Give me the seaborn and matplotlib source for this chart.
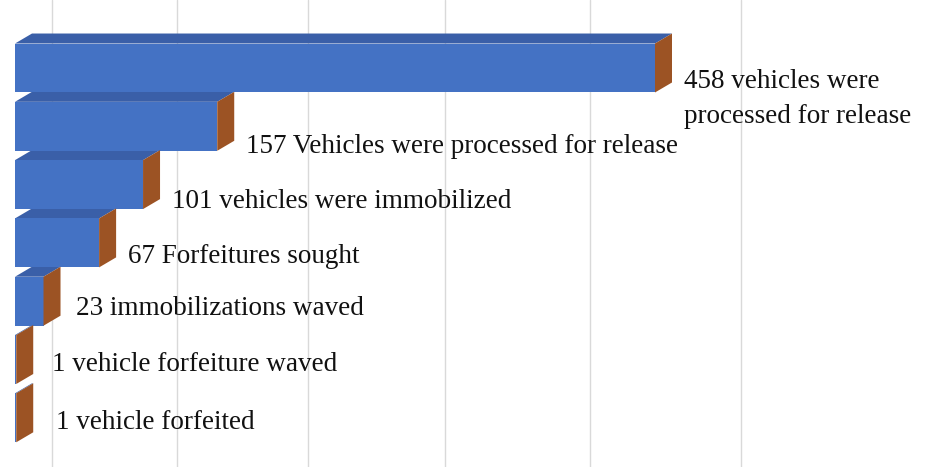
import matplotlib
matplotlib.use("Agg")
import matplotlib.pyplot as plt
from matplotlib.patches import Polygon
import seaborn as sns
import pandas as pd
import numpy as np

# ---- data ----
categories = ["Processed for release (total)", "Processed for release",
              "Immobilized", "Forfeitures sought", "Immobilizations waived",
              "Forfeiture waived", "Forfeited"]
values = [458, 157, 101, 67, 23, 1, 1]
labels = ["458 vehicles were\nprocessed for release",
          "157 Vehicles were processed for release",
          "101 vehicles were immobilized",
          "67 Forfeitures sought",
          "23 immobilizations waved",
          "1 vehicle forfeiture waved",
          "1 vehicle forfeited"]
grid_values = [0, 100, 200, 300, 400, 500]

df = pd.DataFrame({"category": categories, "value": values})

sns.set_theme(style="white")
plt.rcParams["font.family"] = ["Liberation Serif", "DejaVu Serif"]

W, H = 929, 467
fig = plt.figure(figsize=(W / 100, H / 100), dpi=100)
ax = fig.add_axes([0, 0, 1, 1])

FRONT = "#4472C4"
TOP = "#3A5FA8"
SIDE = "#9C5324"

bar_h = 0.84
ax = sns.barplot(data=df, y="category", x="value", orient="h", color=FRONT,
                 width=bar_h, ax=ax, zorder=3, saturation=1, linewidth=0)

# mild perspective along the value axis
A = 0.000295
def fwd(x):
    x = np.asarray(x, dtype=float)
    return x + A * x * np.abs(x)
def inv(y):
    y = np.asarray(y, dtype=float)
    return np.sign(y) * (-1 + np.sqrt(1 + 4 * A * np.abs(y))) / (2 * A)
ax.set_xscale("function", functions=(fwd, inv))

x0_px = 15
end_px = 655
k = (end_px - x0_px) / float(fwd(max(values)))
ax.set_xlim(float(inv(-x0_px / k)), float(inv((W - x0_px) / k)))

px_per_y = 58.3
y0_px = 68
ax.set_ylim((H - y0_px) / px_per_y, -y0_px / px_per_y)

# depth offsets in pixels
DX, DY = 17, 10
to_disp = ax.transData.transform
to_data = ax.transData.inverted().transform

def shift(pt, ddx, ddy):
    d = to_disp(pt)
    return tuple(to_data((d[0] + ddx, d[1] + ddy)))

# back-wall gridlines (shifted by depth), slightly compressed by distance
grid_shift = 30
for g in grid_values:
    ax.axvline(g * 0.965 + grid_shift, color="#d9d9d9", lw=1.0, zorder=0)

for i, v in enumerate(values):
    top = i - bar_h / 2
    bot = i + bar_h / 2
    p_tl, p_tr, p_br = (0, top), (v, top), (v, bot)
    ax.add_patch(Polygon([p_tl, p_tr, shift(p_tr, DX, DY), shift(p_tl, DX, DY)],
                         closed=True, facecolor=TOP, edgecolor="none",
                         zorder=2.5 + (7 - i) * 0.01))
    ax.add_patch(Polygon([p_tr, shift(p_tr, DX, DY), shift(p_br, DX, DY), p_br],
                         closed=True, facecolor=SIDE, edgecolor="none", zorder=3.5))
    side_end = to_disp((v, i))[0] + DX
    off_px = 4 + 10 * np.log(max(side_end, 50) / 45.0)
    gap = 12 + 3.5 * max(i - 3, 0)
    lx, ly = to_data((side_end + gap, to_disp((v, i))[1] - off_px))
    ax.text(lx, ly, labels[i], fontsize=19.5, va="center", ha="left",
            color="#111111", zorder=5, linespacing=1.5)

ax.set_xlabel("")
ax.set_ylabel("")
ax.set_xticks([])
ax.set_yticks([])
ax.minorticks_off()
for s in ax.spines.values():
    s.set_visible(False)

fig.savefig("out.png", dpi=100)
